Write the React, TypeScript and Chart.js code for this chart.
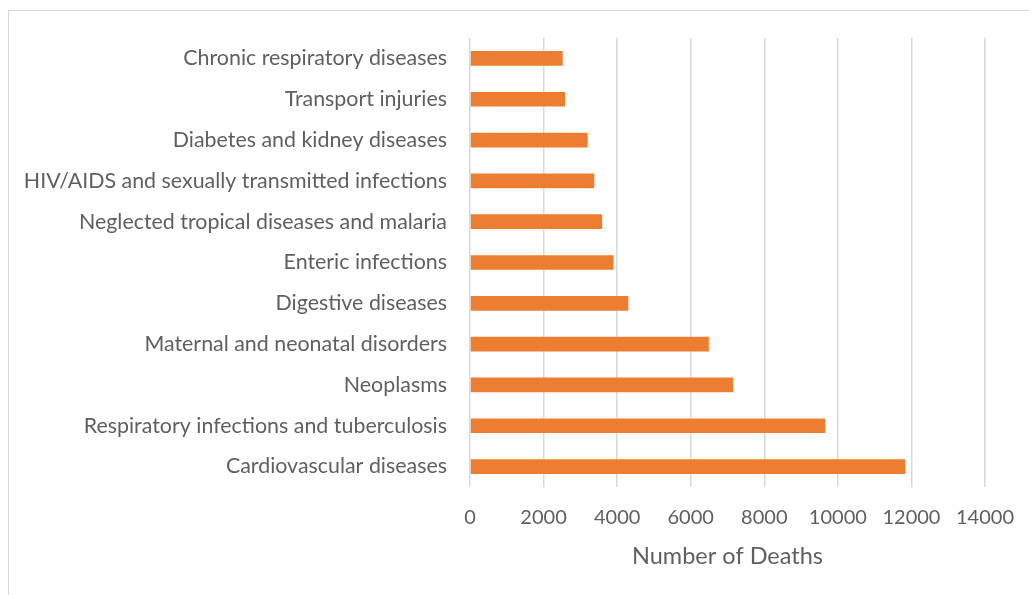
import React, { useEffect, useRef } from "react";
import { Chart, registerables } from "chart.js";

Chart.register(...registerables);

const categories = [
  "Chronic respiratory diseases",
  "Transport injuries",
  "Diabetes and kidney diseases",
  "HIV/AIDS and sexually transmitted infections",
  "Neglected tropical diseases and malaria",
  "Enteric infections",
  "Digestive diseases",
  "Maternal and neonatal disorders",
  "Neoplasms",
  "Respiratory infections and tuberculosis",
  "Cardiovascular diseases",
];

const deaths = [2520, 2584, 3196, 3379, 3593, 3903, 4305, 6493, 7151, 9659, 11834];

const xTicks = [0, 2000, 4000, 6000, 8000, 10000, 12000, 14000];

const FONT = "Lato, 'Open Sans', sans-serif";
const TEXT = "#5f5f5f";

export default function App() {
  const ref = useRef<HTMLCanvasElement | null>(null);

  useEffect(() => {
    if (!ref.current) return;
    const chart = new Chart(ref.current, {
      type: "bar",
      data: {
        labels: categories,
        datasets: [
          {
            label: "Number of Deaths",
            data: deaths,
            backgroundColor: "#ED7D31",
            borderWidth: 0,
            categoryPercentage: 1,
            barPercentage: 0.36,
          },
        ],
      },
      options: {
        indexAxis: "y",
        animation: false,
        responsive: false,
        maintainAspectRatio: false,
        devicePixelRatio: 1,
        layout: { padding: { top: 38, right: 44, left: 0, bottom: 0 } },
        plugins: {
          legend: { display: false },
          tooltip: { enabled: false },
        },
        scales: {
          x: {
            min: 0,
            max: 14000,
            afterBuildTicks: (scale: any) => {
              scale.ticks = xTicks.map((v) => ({ value: v }));
            },
            afterFit: (scale: any) => {
              scale.height = 108;
              scale.paddingLeft = 0;
              scale.paddingRight = 0;
            },
            ticks: {
              color: TEXT,
              font: { family: FONT, size: 20 },
              padding: 19,
              maxRotation: 0,
              autoSkip: false,
              callback: (v: any) => String(v),
            },
            grid: {
              color: "#d9d9d9",
              lineWidth: 1.5,
              drawTicks: false,
            },
            border: { display: false },
            title: {
              display: true,
              text: "Number of Deaths",
              color: TEXT,
              font: { family: FONT, size: 23.5 },
              padding: { top: 0, bottom: 24 },
            },
          },
          y: {
            afterFit: (scale: any) => {
              scale.width = 470;
              scale.paddingTop = 0;
              scale.paddingBottom = 0;
            },
            ticks: {
              color: TEXT,
              font: { family: FONT, size: 21.4 },
              padding: 23,
              autoSkip: false,
            },
            grid: { display: false, drawTicks: false },
            border: { display: false },
          },
        },
      },
    });
    return () => chart.destroy();
  }, []);

  return (
    <div
      style={{
        position: "absolute",
        left: 0,
        top: 0,
        width: 1029,
        height: 595,
        overflow: "hidden",
        background: "#fff",
      }}
    >
      <div
        style={{
          position: "absolute",
          left: 8,
          top: 10,
          width: 1100,
          height: 700,
          border: "1px solid #d9d9d9",
        }}
      />
      <canvas
        ref={ref}
        width={1029}
        height={595}
        style={{ position: "absolute", left: 0, top: 0, width: 1029, height: 595 }}
      />
    </div>
  );
}
